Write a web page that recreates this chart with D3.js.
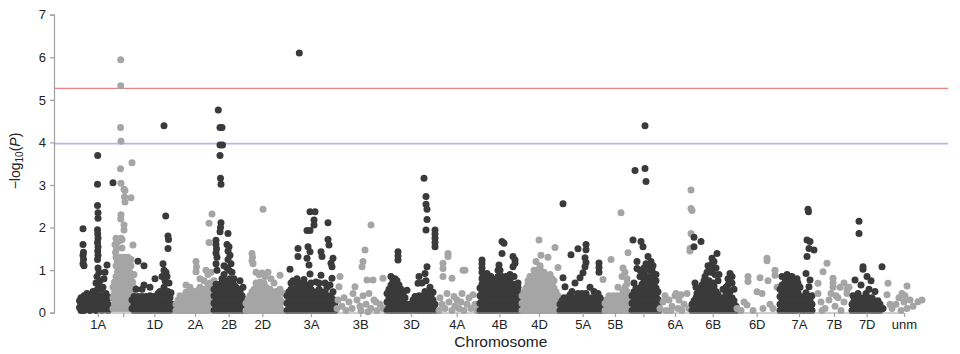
<!DOCTYPE html>
<html><head><meta charset="utf-8">
<script src="https://cdn.jsdelivr.net/npm/d3@7"></script>
<style>body{margin:0;background:#fff}svg{display:block;font-family:"Liberation Sans",Arial,Helvetica,sans-serif}</style>
</head><body><svg id="c" width="960" height="354"></svg>
<script>
// chromosome names, axis labels (R dropped overlapping labels) and tick (midpoint) positions in cumulative map units
const chromosomes = ["1A","1B","1D","2A","2B","2D","3A","3B","3D","4A","4B","4D","5A","5B","5D","6A","6B","6D","7A","7B","7D","unm"];
const tickLabels  = ["1A","","1D","2A","2B","2D","3A","3B","3D","4A","4B","4D","5A","5B","","6A","6B","6D","7A","7B","7D","unm"];
const tickPos     = [19.7,45.3,76.3,117,150.7,184.3,233,282.3,333,378.7,421.3,461,504.7,537,565.3,597,634.7,678.7,721,756,788.7,826];
const yTicks = [0,1,2,3,4,5,6,7];
const suggestiveLine = 3.97;
const genomewideLine = 5.27;

// markers: [cumulative position, -log10(P)]
const pts1A = [[5,1.97],[5,1.6],[5.5,1.42],[5,1.35],[5.5,1.25],[5,1.15],[6,1.1],
[19.7,3.69],[19.5,3.02],[19.5,2.52],[20,2.35],[20,2.22],[19.5,1.95],[19.7,1.85],[20,1.75],[19.5,1.65],[20,1.55],[19.7,1.45],[20,1.35],[19.5,1.25],[20,1.05],[21,0.95],[19,0.85],[22,0.75],[18,0.7],[21,0.6],[23,0.55],[17,0.5],
[29,1.12],[27,0.95],[26,0.8],[25,0.6],[28,0.45],[35,3.05],
[3,0.05],[3,0.2],[3,0.35],[6,0.05],[6,0.25],[6,0.4],[9,0.1],[9,0.3],[9,0.45],[12,0.05],[12,0.25],[12,0.4],[15,0.1],[15,0.3],[15,0.5],[18,0.05],[18,0.25],[18,0.45],[21,0.1],[21,0.3],[24,0.05],[24,0.25],[24,0.4],[27,0.1],[27,0.3],[30,0.05],[30,0.2],[32,0.35],
[4.5,0.15],[4.5,0.3],[7.5,0.15],[7.5,0.32],[10.5,0.18],[10.5,0.35],[13.5,0.15],[13.5,0.33],[16.5,0.18],[16.5,0.4],[19.5,0.15],[19.5,0.35],[19.5,0.55],[22.5,0.18],[22.5,0.4],[25.5,0.15],[25.5,0.32],[28.5,0.18],[28.5,0.38],[31,0.12],[1.5,0.12],[1.5,0.28]];
const pts1B = [[42.7,5.94],[42.7,5.33],[42.5,4.35],[43,4.03],[42.5,3.38],[43,3.04],[43,2.3],[42.7,2.2],[43,1.75],[42.5,1.7],
[46,2.9],[47,2.87],[46.5,2.72],[47,2.6],[46,2.06],[46,1.94],[54,3.52],[53,2.7],[55,1.59],
[38,1.75],[39,1.65],[37,1.6],[38.5,1.5],[37.5,1.42],[44,1.52],[44,1.72],[40,1.72],
[35,0.1],[35,0.35],[35,0.6],[38,0.1],[38,0.35],[38,0.6],[38,0.85],[38,1.1],[38,1.3],[41,0.1],[41,0.35],[41,0.6],[41,0.85],[41,1.1],[41,1.3],[44,0.1],[44,0.35],[44,0.6],[44,0.85],[44,1.1],[44,1.3],[47,0.1],[47,0.35],[47,0.6],[47,0.85],[47,1.1],[47,1.3],[50,0.1],[50,0.35],[50,0.6],[50,0.85],[50,1.1],[50,1.3],[53,0.1],[53,0.35],[53,0.6],[53,0.85],[53,1.1],[53,1.25],[56,0.1],[56,0.35],[56,0.6],[56,0.9],
[36.5,0.22],[36.5,0.47],[36.5,0.72],[39.5,0.22],[39.5,0.47],[39.5,0.72],[39.5,0.97],[39.5,1.2],[42.5,0.22],[42.5,0.47],[42.5,0.72],[42.5,0.97],[42.5,1.2],[45.5,0.22],[45.5,0.47],[45.5,0.72],[45.5,0.97],[45.5,1.2],[48.5,0.22],[48.5,0.47],[48.5,0.72],[48.5,0.97],[48.5,1.2],[51.5,0.22],[51.5,0.47],[51.5,0.72],[51.5,0.97],[51.5,1.2],[54.5,0.22],[54.5,0.47],[54.5,0.72]];
const pts1D = [[60,1.21],[66,1.1],[86,4.39],[87.7,2.27],[90,1.8],[90.5,1.72],[90,1.51],[85,1.15],[86,1.0],[88,0.95],[84,0.85],[89,0.85],[87,0.75],[91,0.7],[86,0.6],[93,0.47],[77,0.8],[66,0.65],[64,0.55],[58,0.55],[72,0.6],
[54,0.1],[54,0.3],[56,0.05],[56,0.2],[56,0.38],[60,0.05],[60,0.2],[60,0.38],[64,0.05],[64,0.2],[64,0.38],[68,0.05],[68,0.2],[68,0.38],[72,0.05],[72,0.2],[72,0.4],[76,0.05],[76,0.2],[76,0.38],[80,0.05],[80,0.2],[80,0.45],[84,0.05],[84,0.2],[84,0.4],[88,0.05],[88,0.22],[88,0.45],[92,0.05],[92,0.2],[92,0.35],[95,0.1],
[58,0.13],[58,0.3],[62,0.13],[62,0.3],[66,0.13],[66,0.3],[70,0.13],[70,0.3],[74,0.13],[74,0.3],[78,0.13],[78,0.3],[82,0.13],[82,0.32],[82,0.5],[86,0.13],[86,0.32],[86,0.5],[90,0.13],[90,0.3],[90,0.5],[94,0.2]];
const pts2A = [[118,1.2],[118.5,1.08],[118,0.96],[131,2.1],[131,1.65],[134,2.32],[122,0.8],[128,1.0],[130,0.9],[126,0.75],[133,0.95],[112,0.6],[108,0.65],
[98,0.05],[98,0.2],[102,0.05],[102,0.22],[102,0.4],[106,0.05],[106,0.2],[106,0.38],[110,0.05],[110,0.22],[110,0.45],[114,0.05],[114,0.2],[114,0.38],[118,0.05],[118,0.22],[118,0.45],[122,0.05],[122,0.2],[122,0.4],[122,0.6],[126,0.05],[126,0.22],[126,0.45],[130,0.05],[130,0.2],[130,0.4],[130,0.65],[134,0.1],[134,0.3],[134,0.55],[136,0.75],
[100,0.13],[100,0.3],[104,0.13],[104,0.3],[108,0.13],[108,0.3],[108,0.48],[112,0.13],[112,0.3],[116,0.13],[116,0.3],[116,0.5],[120,0.13],[120,0.3],[120,0.52],[124,0.13],[124,0.32],[124,0.55],[128,0.13],[128,0.32],[128,0.55],[132,0.13],[132,0.32],[132,0.5],[132,0.7]];
const pts2B = [[140.3,4.76],[142,4.35],[144,4.35],[142,3.94],[144.5,3.94],[142,3.69],[142.5,3.16],[143,3.02],[143,2.11],[142.5,2.0],[142,1.9],[138,1.7],[138,1.6],[138.5,1.5],[138,1.4],[139,1.3],[138,1.15],[139,1.0],[150,1.86],[149,1.6],[151,1.55],[150,1.45],[152,1.35],[150,1.25],[153,1.15],[149,1.05],[154,0.95],[146,0.9],[144,0.8],[156,0.8],[162,0.75],[165,0.6],[158,0.6],
[136,0.05],[136,0.22],[136,0.4],[136,0.55],[140,0.05],[140,0.22],[140,0.4],[140,0.6],[144,0.05],[144,0.22],[144,0.4],[144,0.6],[148,0.05],[148,0.22],[148,0.4],[148,0.55],[152,0.05],[152,0.22],[152,0.4],[152,0.6],[156,0.05],[156,0.22],[156,0.4],[160,0.05],[160,0.22],[160,0.4],[164,0.05],[164,0.22],[164,0.4],[168,0.05],[168,0.22],
[138,0.13],[138,0.31],[138,0.49],[138,0.67],[142,0.13],[142,0.31],[142,0.49],[142,0.67],[146,0.13],[146,0.31],[146,0.49],[146,0.67],[150,0.13],[150,0.31],[150,0.49],[150,0.67],[154,0.13],[154,0.31],[154,0.49],[154,0.67],[158,0.13],[158,0.31],[158,0.49],[162,0.13],[162,0.31],[162,0.49],[166,0.13],[166,0.31],
[148,0.75],[152,0.8],[156,0.65],[160,0.55],[146,1.1],[151,1.0]];
const pts2D = [[174,1.39],[174.5,1.3],[174,1.22],[175,1.15],[185,2.43],[178,0.95],[181,0.9],[184,0.93],[187,0.85],[190,0.95],[193,0.8],[202,0.88],[196,0.7],[182,0.72],
[168,0.05],[168,0.22],[172,0.05],[172,0.22],[172,0.4],[176,0.05],[176,0.22],[176,0.4],[176,0.55],[180,0.05],[180,0.22],[180,0.4],[180,0.6],[184,0.05],[184,0.22],[184,0.4],[184,0.6],[188,0.05],[188,0.22],[188,0.4],[188,0.6],[192,0.05],[192,0.22],[192,0.4],[192,0.55],[196,0.05],[196,0.22],[196,0.4],[200,0.05],[200,0.22],[200,0.45],[204,0.05],[204,0.25],[206,0.45],
[170,0.13],[170,0.31],[174,0.13],[174,0.31],[174,0.49],[178,0.13],[178,0.31],[178,0.49],[178,0.7],[182,0.13],[182,0.31],[182,0.49],[186,0.13],[186,0.31],[186,0.49],[186,0.7],[190,0.13],[190,0.31],[190,0.49],[194,0.13],[194,0.31],[194,0.49],[198,0.13],[198,0.31],[198,0.5],[202,0.13],[202,0.31],[202,0.55]];
const pts3A = [[221.3,6.1],[212,1.02],[220,1.51],[220,1.32],[232,2.37],[237,2.37],[236,2.18],[236,2.06],[229,1.93],[232,1.93],[230,1.55],[232,1.43],[229,1.28],[231,1.12],[232,0.91],[243,1.43],[244,1.32],[243,0.88],[250,2.11],[250,1.72],[251,1.59],[255,1.28],[253,1.16],[254,1.08],[254,0.81],[252,0.65],[215,0.75],[222,0.7],[226,0.78],[238,0.72],[247,0.7],
[209,0.05],[209,0.22],[209,0.4],[213,0.05],[213,0.22],[213,0.4],[213,0.55],[217,0.05],[217,0.22],[217,0.4],[217,0.55],[221,0.05],[221,0.22],[221,0.4],[221,0.55],[225,0.05],[225,0.22],[225,0.4],[225,0.55],[229,0.05],[229,0.22],[229,0.4],[229,0.6],[233,0.05],[233,0.22],[233,0.4],[233,0.55],[237,0.05],[237,0.22],[237,0.4],[241,0.05],[241,0.22],[241,0.4],[241,0.55],[245,0.05],[245,0.22],[245,0.4],[249,0.05],[249,0.22],[249,0.4],[253,0.05],[253,0.22],[253,0.4],[257,0.05],[257,0.22],
[211,0.13],[211,0.31],[211,0.49],[215,0.13],[215,0.31],[215,0.49],[219,0.13],[219,0.31],[219,0.49],[219,0.67],[223,0.13],[223,0.31],[223,0.49],[227,0.13],[227,0.31],[227,0.49],[227,0.67],[231,0.13],[231,0.31],[231,0.49],[235,0.13],[235,0.31],[235,0.49],[239,0.13],[239,0.31],[239,0.49],[243,0.13],[243,0.31],[243,0.49],[247,0.13],[247,0.31],[247,0.49],[251,0.13],[251,0.31],[255,0.13],[255,0.31],[255,0.49],
[213,0.7],[219,0.8],[225,0.7],[233,0.7],[241,0.7],[249,0.6]];
const pts3B = [[262,0.85],[261,0.61],[260,0.3],[287,1.47],[285,1.2],[284,1.08],[293,2.06],[289,0.77],[295,0.77],[305,0.81],[277,0.61],[275,0.45],
[259,0.1],[264,0.15],[268,0.05],[271,0.25],[274,0.1],[279,0.3],[282,0.15],[285,0.4],[288,0.2],[291,0.45],[293,0.1],[296,0.3],[299,0.05],[302,0.2],[305,0.1],[266,0.35],[283,0.05],[290,0.02],[298,0.25]];
const pts3D = [[320,1.43],[320,1.24],[320,1.33],[346,3.16],[348,2.73],[348,2.55],[349,2.43],[349,2.19],[348,1.94],[357,1.94],[357,1.85],[357,1.75],[357,1.65],[357,1.55],[349,1.08],[347,0.92],[341,0.85],[340,0.69],[329,0.53],[348,0.75],[352,0.6],[344,0.7],
[309,0.05],[309,0.25],[309,0.45],[313,0.05],[313,0.25],[313,0.45],[313,0.65],[313,0.85],[317,0.05],[317,0.25],[317,0.45],[317,0.65],[317,0.8],[321,0.05],[321,0.25],[321,0.45],[321,0.65],[325,0.05],[325,0.25],[325,0.45],
[329,0.05],[329,0.2],[333,0.05],[333,0.2],[337,0.05],[337,0.2],[337,0.38],[341,0.05],[341,0.2],[341,0.4],[345,0.05],[345,0.2],[345,0.4],[349,0.05],[349,0.2],[349,0.4],[353,0.05],[353,0.2],[353,0.38],[357,0.05],[357,0.2],
[311,0.15],[311,0.35],[311,0.55],[315,0.15],[315,0.35],[315,0.55],[315,0.75],[319,0.15],[319,0.35],[319,0.55],[319,0.75],[323,0.15],[323,0.35],[323,0.55],[327,0.15],[327,0.35],
[331,0.13],[335,0.13],[335,0.3],[339,0.13],[339,0.3],[343,0.13],[343,0.3],[347,0.13],[347,0.3],[347,0.5],[351,0.13],[351,0.3],[351,0.5],[355,0.13],[355,0.3],[355,0.48]];
const pts4A = [[365,1.16],[365,1.04],[365,0.85],[370,1.39],[370,1.32],[374,0.81],[385,1.0],[387,1.0],[369,0.45],[379,0.3],[384,0.45],[395,0.42],
[361,0.05],[364,0.2],[367,0.1],[371,0.25],[374,0.05],[377,0.15],[381,0.1],[383,0.25],[386,0.05],[389,0.2],[391,0.35],[393,0.1],[397,0.2],[399,0.05],[362,0.35],[376,0.38]];
const pts4B = [[404,1.24],[404,1.15],[404,1.05],[404,0.95],[405,0.85],[424,1.67],[426,1.63],[424,1.39],[421,1.12],[422,1.0],[435,1.32],[437,1.24],[435,1.08],[437,1.16],[409,0.92],[413,0.85],[418,0.78],[428,0.85],[432,0.78],[440,0.7],
[402,0.05],[402,0.22],[402,0.4],[402,0.58],[406,0.05],[406,0.22],[406,0.4],[406,0.58],[406,0.72],[410,0.05],[410,0.22],[410,0.4],[410,0.58],[410,0.75],[414,0.05],[414,0.22],[414,0.4],[414,0.58],[418,0.05],[418,0.22],[418,0.4],[418,0.58],[422,0.05],[422,0.22],[422,0.4],[422,0.58],[422,0.75],[426,0.05],[426,0.22],[426,0.4],[426,0.58],[430,0.05],[430,0.22],[430,0.4],[430,0.58],[434,0.05],[434,0.22],[434,0.4],[434,0.58],[438,0.05],[438,0.22],[438,0.4],[438,0.55],[442,0.05],[442,0.22],
[404,0.13],[404,0.31],[404,0.49],[404,0.67],[408,0.13],[408,0.31],[408,0.49],[408,0.67],[412,0.13],[412,0.31],[412,0.49],[412,0.67],[416,0.13],[416,0.31],[416,0.49],[416,0.67],[420,0.13],[420,0.31],[420,0.49],[420,0.67],[420,0.85],[424,0.13],[424,0.31],[424,0.49],[424,0.67],[428,0.13],[428,0.31],[428,0.49],[428,0.67],[432,0.13],[432,0.31],[432,0.49],[432,0.67],[436,0.13],[436,0.31],[436,0.49],[436,0.67],[440,0.13],[440,0.31],[440,0.49],
[404,0.8],[408,0.85],[412,0.8],[416,0.75],[420,1.0],[424,0.85],[428,0.75],[432,0.9],[436,0.85],[440,0.6]];
const pts4D = [[461,1.71],[463,1.35],[470,1.3],[477,1.53],[480,1.06],[458,1.2],[456,1.0],[462,1.05],[466,0.95],[452,0.85],[472,0.9],[450,0.75],[476,0.75],
[444,0.05],[444,0.22],[444,0.4],[448,0.05],[448,0.22],[448,0.4],[448,0.58],[452,0.05],[452,0.22],[452,0.4],[452,0.58],[456,0.05],[456,0.22],[456,0.4],[456,0.58],[456,0.8],[460,0.05],[460,0.22],[460,0.4],[460,0.58],[460,0.8],[464,0.05],[464,0.22],[464,0.4],[464,0.58],[464,0.8],[468,0.05],[468,0.22],[468,0.4],[468,0.58],[468,0.75],[472,0.05],[472,0.22],[472,0.4],[472,0.58],[476,0.05],[476,0.22],[476,0.4],[476,0.58],[480,0.05],[480,0.22],[480,0.4],
[446,0.13],[446,0.31],[446,0.49],[450,0.13],[450,0.31],[450,0.49],[450,0.67],[454,0.13],[454,0.31],[454,0.49],[454,0.67],[458,0.13],[458,0.31],[458,0.49],[458,0.67],[458,0.88],[462,0.13],[462,0.31],[462,0.49],[462,0.67],[462,0.9],[466,0.13],[466,0.31],[466,0.49],[466,0.67],[470,0.13],[470,0.31],[470,0.49],[470,0.67],[474,0.13],[474,0.31],[474,0.49],[474,0.67],[478,0.13],[478,0.31],[478,0.49],[482,0.13],[482,0.31],
[454,0.85],[458,1.0],[462,1.1],[466,0.85],[470,0.85],[474,0.8],[450,0.6]];
const pts5A = [[485,2.56],[493,1.36],[500,1.5],[508,1.6],[508,1.48],[507,1.29],[508,1.18],[507,1.08],[505,0.94],[502,0.82],[521,1.17],[521,1.06],[521,0.95],[485,0.82],[487,0.61],[497,0.7],[512,0.6],[516,0.5],[494,0.5],
[482,0.05],[482,0.2],[486,0.05],[486,0.2],[486,0.35],[490,0.05],[490,0.2],[490,0.35],[494,0.05],[494,0.2],[494,0.35],[498,0.05],[498,0.2],[498,0.35],[502,0.05],[502,0.2],[502,0.35],[506,0.05],[506,0.2],[506,0.35],[510,0.05],[510,0.2],[510,0.35],[514,0.05],[514,0.2],[514,0.35],[518,0.05],[518,0.2],[518,0.35],[522,0.05],[522,0.2],[522,0.35],[526,0.05],[526,0.2],
[484,0.13],[484,0.28],[488,0.13],[488,0.28],[492,0.13],[492,0.28],[492,0.42],[496,0.13],[496,0.28],[500,0.13],[500,0.28],[500,0.45],[504,0.13],[504,0.28],[504,0.45],[508,0.13],[508,0.28],[508,0.45],[512,0.13],[512,0.28],[516,0.13],[516,0.28],[520,0.13],[520,0.28],[520,0.45],[524,0.13],[524,0.28]];
const pts5B = [[543,2.35],[533,1.25],[550,1.41],[545,1.05],[547,0.95],[544,0.85],[549,0.8],[525,0.78],[540,0.6],
[527,0.05],[527,0.22],[531,0.05],[531,0.22],[531,0.4],[535,0.05],[535,0.22],[535,0.4],[539,0.05],[539,0.22],[539,0.4],[543,0.05],[543,0.22],[543,0.4],[547,0.05],[547,0.22],[547,0.4],[547,0.6],[551,0.05],[551,0.22],[551,0.4],
[529,0.13],[529,0.31],[533,0.13],[533,0.31],[537,0.13],[537,0.31],[541,0.13],[541,0.31],[545,0.13],[545,0.31],[545,0.5],[549,0.13],[549,0.31],[549,0.5],[549,0.68]];
const pts5D = [[567,4.39],[567,3.39],[557,3.34],[568,3.08],[555,1.71],[563,1.67],[565,1.55],[570,1.32],[559,1.2],[559,1.04],[573,1.2],[575,1.1],[568,1.15],[572,1.0],[566,0.95],[576,0.9],[562,0.85],[556,0.7],[578,0.75],
[554,0.05],[554,0.22],[554,0.4],[558,0.05],[558,0.22],[558,0.4],[558,0.58],[562,0.05],[562,0.22],[562,0.4],[562,0.58],[566,0.05],[566,0.22],[566,0.4],[566,0.58],[566,0.75],[570,0.05],[570,0.22],[570,0.4],[570,0.58],[570,0.8],[574,0.05],[574,0.22],[574,0.4],[574,0.58],[574,0.75],[578,0.05],[578,0.22],[578,0.4],[578,0.58],[581,0.05],[581,0.22],
[556,0.13],[556,0.31],[556,0.49],[560,0.13],[560,0.31],[560,0.49],[564,0.13],[564,0.31],[564,0.49],[564,0.67],[568,0.13],[568,0.31],[568,0.49],[568,0.67],[568,0.85],[572,0.13],[572,0.31],[572,0.49],[572,0.67],[572,0.85],[576,0.13],[576,0.31],[576,0.49],[576,0.67],[580,0.13],[580,0.31],[580,0.49],
[566,1.05],[570,1.1],[574,1.0],[578,0.9],[564,0.85],[562,1.0]];
const pts6A = [[613,2.88],[613,2.45],[614,2.4],[613,1.86],[612,1.51],[612,1.45],
[582,0.1],[585,0.25],[588,0.05],[591,0.3],[594,0.15],[597,0.4],[600,0.1],[603,0.42],[606,0.2],[609,0.45],[611,0.1],[598,0.45],[593,0.05],[587,0.4],[604,0.05],[601,0.3]];
const pts6B = [[616,1.77],[623,1.67],[616,1.55],[639,1.39],[634,1.28],[636,1.2],[630,1.1],[638,1.05],[633,0.95],[627,0.85],[641,0.9],[618,0.6],[619,0.45],[652,0.92],[650,0.8],[654,0.7],[648,0.6],[645,0.55],[628,0.7],[631,0.75],[635,0.7],[624,0.65],
[614,0.05],[614,0.2],[618,0.05],[618,0.2],[618,0.35],[622,0.05],[622,0.2],[622,0.35],[626,0.05],[626,0.2],[626,0.35],[626,0.5],[630,0.05],[630,0.2],[630,0.35],[630,0.55],[634,0.05],[634,0.2],[634,0.35],[634,0.55],[638,0.05],[638,0.2],[638,0.35],[638,0.5],[642,0.05],[642,0.2],[642,0.35],[646,0.05],[646,0.2],[646,0.35],[650,0.05],[650,0.2],[650,0.4],[654,0.05],[654,0.2],[654,0.35],[658,0.05],[658,0.15],
[616,0.13],[616,0.28],[620,0.13],[620,0.28],[624,0.13],[624,0.28],[624,0.43],[628,0.13],[628,0.28],[628,0.43],[628,0.6],[632,0.13],[632,0.28],[632,0.43],[632,0.62],[636,0.13],[636,0.28],[636,0.43],[636,0.62],[640,0.13],[640,0.28],[640,0.43],[644,0.13],[644,0.28],[648,0.13],[648,0.28],[648,0.45],[652,0.13],[652,0.28],[652,0.5],[656,0.13],[656,0.28],
[629,0.95],[632,1.05],[634,1.15],[637,0.9],[640,0.75],[626,0.75],[622,0.55],[617,0.7],[650,0.65],[654,0.85],[656,0.55]];
const pts6D = [[670,0.85],[670,0.73],[682,0.82],[689,1.28],[689,1.22],[690,0.75],[697,1.0],[697,0.88],[679,0.49],[684,0.45],[685,0.1],[669,0.18],[659,0.1],[699,0.6],[663,0.05],[675,0.05],[692,0.2],[695,0.1],[666,0.25]];
const pts7A = [[730,2.43],[730.5,2.37],[729,1.71],[732,1.67],[731,1.51],[736,1.47],[729,1.32],[728,0.92],[732,0.77],[731,0.61],[704,0.85],[709,0.9],[714,0.85],[719,0.8],[712,0.7],[707,0.72],[722,0.6],[734,0.4],
[702,0.05],[702,0.2],[702,0.38],[706,0.05],[706,0.2],[706,0.38],[706,0.55],[710,0.05],[710,0.2],[710,0.38],[710,0.55],[714,0.05],[714,0.2],[714,0.38],[714,0.55],[718,0.05],[718,0.2],[718,0.38],[718,0.55],[722,0.05],[722,0.2],[722,0.38],[726,0.05],[726,0.2],[726,0.38],[730,0.05],[730,0.2],[730,0.38],[734,0.05],[734,0.2],
[704,0.13],[704,0.3],[704,0.47],[708,0.13],[708,0.3],[708,0.47],[708,0.64],[712,0.13],[712,0.3],[712,0.47],[716,0.13],[716,0.3],[716,0.47],[716,0.64],[720,0.13],[720,0.3],[720,0.47],[724,0.13],[724,0.3],[728,0.13],[728,0.3],[728,0.47],[732,0.13],[732,0.3],
[704,0.65],[708,0.8],[712,0.85],[716,0.75],[720,0.7],[702,0.55]];
const pts7B = [[749,1.16],[745,0.96],[740,0.69],[740,0.45],[755,0.81],[755,0.7],[755,0.6],[753,0.45],[743,0.25],[747,0.1],[751,0.3],[757,0.15],[760,0.35],[763,0.05],[766,0.25],[769,0.45],[771,0.6],[744,0.05],[758,0.4],[762,0.6],[766,0.7],[769,0.55]];
const pts7D = [[781,2.15],[781,1.86],[785,1.08],[785,1.02],[804,1.08],[789,0.85],[793,0.75],[777,0.77],[783,0.65],[791,0.55],[797,0.5],[775,0.4],
[774,0.05],[774,0.2],[778,0.05],[778,0.2],[778,0.35],[782,0.05],[782,0.2],[782,0.35],[786,0.05],[786,0.2],[786,0.35],[790,0.05],[790,0.2],[790,0.35],[794,0.05],[794,0.2],[794,0.35],[798,0.05],[798,0.2],[802,0.05],[802,0.2],[805,0.1],
[776,0.13],[776,0.28],[780,0.13],[780,0.28],[780,0.45],[784,0.13],[784,0.28],[788,0.13],[788,0.28],[788,0.45],[792,0.13],[792,0.28],[796,0.13],[796,0.28],[800,0.13],[800,0.28]];
const ptsUnm = [[810,0.69],[829,0.63],[809,0.42],[824,0.45],[840,0.26],[844,0.3],[818,0.2],[821,0.35],[826,0.25],[829,0.1],[823,0.05],[832,0.3],[814,0.1],[812,0.2],[835,0.15],[827,0.4]];

const series = [pts1A,pts1B,pts1D,pts2A,pts2B,pts2D,pts3A,pts3B,pts3D,pts4A,pts4B,pts4D,pts5A,pts5B,pts5D,pts6A,pts6B,pts6D,pts7A,pts7B,pts7D,ptsUnm];
const colors = ["#3a3a3a","#a5a5a5"];

const svg = d3.select("#c");
const x = d3.scaleLinear().domain([0,850]).range([78,928]);
const y = d3.scaleLinear().domain([0,7]).range([312.7,14.7]);
const axisCol = "#a0a0a0", textCol = "#222";

// threshold lines
svg.append("line").attr("x1",54).attr("x2",948).attr("y1",y(genomewideLine)).attr("y2",y(genomewideLine))
  .attr("stroke","#f08080").attr("stroke-width",1.3);
svg.append("line").attr("x1",54).attr("x2",948).attr("y1",y(suggestiveLine)).attr("y2",y(suggestiveLine))
  .attr("stroke","#b4b4f8").attr("stroke-width",1.8);

// points
const g = svg.append("g");
series.forEach((pts,i)=>{
  g.selectAll(null).data(pts).enter().append("circle")
    .attr("cx",d=>x(d[0])).attr("cy",d=>y(d[1])).attr("r",3.5)
    .attr("fill",colors[i%2]);
});

// y axis
const ya = svg.append("g").attr("transform","translate(54,0)")
  .call(d3.axisLeft(y).tickValues(yTicks).tickSize(4).tickPadding(4).tickFormat(d3.format("d")));
ya.select(".domain").attr("stroke",axisCol).attr("stroke-width",1.2);
ya.selectAll(".tick line").attr("stroke",axisCol).attr("stroke-width",1.2);
ya.selectAll(".tick text").attr("fill",textCol).attr("font-size",13).attr("font-family","Liberation Sans, Arial, sans-serif");

// x axis
const xa = svg.append("g").attr("transform","translate(0,313)")
  .call(d3.axisBottom(x).tickValues(tickPos).tickSize(4).tickPadding(3)
    .tickFormat((d,i)=>tickLabels[i]));
xa.select(".domain").attr("d",`M${x(tickPos[0])},0H${x(tickPos[tickPos.length-1])}`).attr("stroke",axisCol).attr("stroke-width",1.2);
xa.selectAll(".tick line").attr("stroke",axisCol).attr("stroke-width",1.2);
xa.selectAll(".tick text").attr("fill",textCol).attr("font-size",13).attr("font-family","Liberation Sans, Arial, sans-serif");

// axis titles
svg.append("text").attr("x",x(tickPos[0]) + (x(tickPos[tickPos.length-1])-x(tickPos[0]))/2).attr("y",347)
  .attr("text-anchor","middle").attr("font-size",15.5).attr("fill",textCol).text("Chromosome");
const yl = svg.append("text").attr("transform","translate(20,161) rotate(-90)")
  .attr("text-anchor","middle").attr("font-size",14).attr("fill",textCol);
yl.append("tspan").text("\u2212log");
yl.append("tspan").attr("font-size",10).attr("dy",3).text("10");
yl.append("tspan").attr("dy",-3).text("(");
yl.append("tspan").attr("font-style","italic").text("P");
yl.append("tspan").text(")");
</script></body></html>
